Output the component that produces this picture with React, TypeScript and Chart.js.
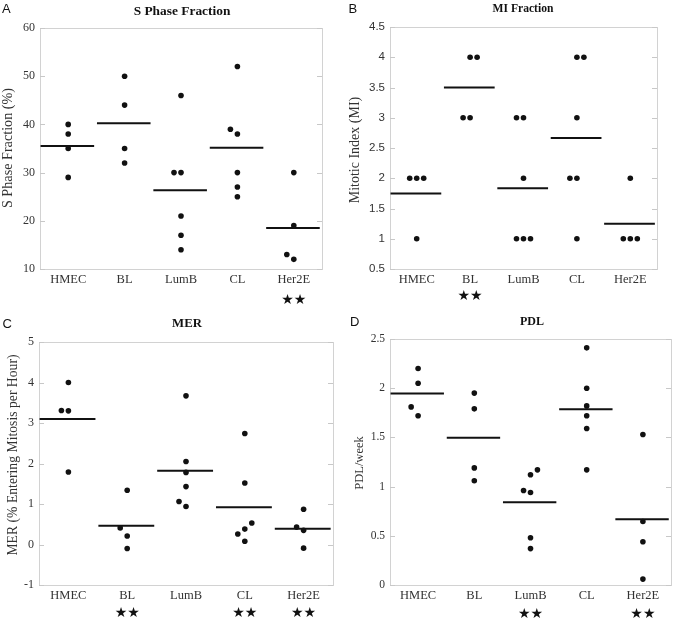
import React, { useEffect, useRef } from "react";
import { Chart, registerables } from "chart.js";

Chart.register(...registerables);

// ---------- data ----------
const categories = ["HMEC", "BL", "LumB", "CL", "Her2E"];

// A: S Phase Fraction (%)
const sPhaseValues = [
  [40, 38, 35, 29],
  [50, 44, 35, 32],
  [46, 30, 30, 21, 17, 14],
  [52, 39, 38, 30, 27, 25],
  [30, 19, 13, 12],
];
const sPhaseSlots = [
  [0, 0, 0, 0],
  [0, 0, 0, 0],
  [0, -1, 0, 0, 0, 0],
  [0, -1, 0, 0, 0, 0],
  [0, 0, -1, 0],
];
const sPhaseTicks = [10, 20, 30, 40, 50, 60];
const sPhaseSig = ["Her2E"];

// B: Mitotic Index
const miValues = [
  [2, 2, 2, 1],
  [4, 4, 3, 3],
  [3, 3, 2, 1, 1, 1],
  [4, 4, 3, 2, 2, 1],
  [2, 1, 1, 1],
];
const miSlots = [
  [-1, 0, 1, 0],
  [0, 1, -1, 0],
  [-1, 0, 0, -1, 0, 1],
  [0, 1, 0, -1, 0, 0],
  [0, -1, 0, 1],
];
const miTicks = [0.5, 1, 1.5, 2, 2.5, 3, 3.5, 4, 4.5];
const miSig = ["BL"];

// C: MER
const merValues = [
  [4.0, 3.31, 3.3, 1.79],
  [1.34, 0.41, 0.21, -0.1],
  [3.67, 2.05, 1.78, 1.43, 1.06, 0.94],
  [2.74, 1.52, 0.53, 0.38, 0.26, 0.08],
  [0.87, 0.43, 0.35, -0.09],
];
const merSlots = [
  [0, -1, 0, 0],
  [0, -1, 0, 0],
  [0, 0, 0, 0, -1, 0],
  [0, 0, 1, 0, -1, 0],
  [0, -1, 0, 0],
];
const merTicks = [-1, 0, 1, 2, 3, 4, 5];
const merSig = ["BL", "CL", "Her2E"];

// D: PDL/week
const pdlValues = [
  [2.2, 2.05, 1.81, 1.72],
  [1.95, 1.79, 1.19, 1.06],
  [1.17, 1.12, 0.96, 0.94, 0.48, 0.37],
  [2.41, 2.0, 1.82, 1.72, 1.59, 1.17],
  [1.53, 0.645, 0.44, 0.06],
];
const pdlSlots = [
  [0, 0, -1, 0],
  [0, 0, 0, 0],
  [1, 0, -1, 0, 0, 0],
  [0, 0, 0, 0, 0, 0],
  [0, 0, 0, 0],
];
const pdlTicks = [0, 0.5, 1, 1.5, 2, 2.5];
const pdlSig = ["LumB", "Her2E"];

// ---------- layout ----------
const W = 675;
const H = 641;
const SERIF = "'Liberation Serif', 'Times New Roman', serif";
const SANS = "'Liberation Sans', Arial, sans-serif";
const SLOT_PX = 7;

type Panel = {
  letter: string;
  letterPos: [number, number];
  title: string;
  titlePos: [number, number];
  titleSize: number;
  yTitle: string;
  yTitlePos: [number, number];
  yTitleSize: number;
  values: number[][];
  slots: number[][];
  ticks: number[];
  sig: string[];
  starY: number;
  plot: { l: number; r: number; t: number; b: number };
  tickFamily: string;
  tickSize: number;
};

const panels: Panel[] = [
  {
    letter: "A", letterPos: [2, 12.7],
    title: "S Phase Fraction", titlePos: [182, 15], titleSize: 13.4,
    yTitle: "S Phase Fraction (%)", yTitlePos: [8, 148], yTitleSize: 14.2,
    values: sPhaseValues, slots: sPhaseSlots, ticks: sPhaseTicks, sig: sPhaseSig,
    starY: 300, plot: { l: 40, r: 322, t: 28, b: 269 },
    tickFamily: SERIF, tickSize: 12,
  },
  {
    letter: "B", letterPos: [348.5, 12.7],
    title: "MI Fraction", titlePos: [523, 12], titleSize: 11.6,
    yTitle: "Mitotic Index (MI)", yTitlePos: [355, 150], yTitleSize: 14,
    values: miValues, slots: miSlots, ticks: miTicks, sig: miSig,
    starY: 296, plot: { l: 390, r: 657, t: 27, b: 269 },
    tickFamily: SANS, tickSize: 11.5,
  },
  {
    letter: "C", letterPos: [2.5, 328],
    title: "MER", titlePos: [187, 327], titleSize: 12.8,
    yTitle: "MER (% Entering Mitosis per Hour)", yTitlePos: [13, 455], yTitleSize: 13.7,
    values: merValues, slots: merSlots, ticks: merTicks, sig: merSig,
    starY: 613, plot: { l: 39, r: 333, t: 342, b: 585 },
    tickFamily: SERIF, tickSize: 12,
  },
  {
    letter: "D", letterPos: [350, 326],
    title: "PDL", titlePos: [532, 325], titleSize: 12,
    yTitle: "PDL/week", yTitlePos: [360, 463], yTitleSize: 12.5,
    values: pdlValues, slots: pdlSlots, ticks: pdlTicks, sig: pdlSig,
    starY: 614, plot: { l: 390, r: 673, t: 339, b: 585 },
    tickFamily: SERIF, tickSize: 11.5,
  },
];

function PanelChart({ panel }: { panel: Panel }) {
  const ref = useRef<HTMLCanvasElement>(null);

  useEffect(() => {
    const canvas = ref.current;
    if (!canvas) return;
    const p = panel;
    const catW = (p.plot.r - p.plot.l) / categories.length;
    const slotDx = SLOT_PX / catW;

    const points = p.values.flatMap((vals, i) =>
      vals.map((v, j) => ({ x: i + p.slots[i][j] * slotDx, y: v }))
    );
    const means = p.values.map((vals) => vals.reduce((a, b) => a + b, 0) / vals.length);
    const meanSets = means.map((m, i) => ({
      data: [
        { x: i - 0.49, y: m },
        { x: i + 0.46, y: m },
      ],
      showLine: true,
      borderColor: "#111",
      borderWidth: 2,
      pointRadius: 0,
      backgroundColor: "#111",
    }));

    const Y_W = 30;
    const X_H = 20;

    const decor = {
      id: "decor",
      beforeDatasetsDraw(chart: any) {
        const ctx = chart.ctx;
        const a = chart.chartArea;
        const ys = chart.scales.y;
        ctx.save();
        ctx.strokeStyle = "#d2d2d2";
        ctx.lineWidth = 1;
        ctx.strokeRect(Math.round(a.left) + 0.5, Math.round(a.top) + 0.5, Math.round(a.right - a.left), Math.round(a.bottom - a.top));
        ctx.strokeStyle = "#c8c8c8";
        ctx.beginPath();
        for (const t of p.ticks) {
          const y = Math.round(ys.getPixelForValue(t)) + 0.5;
          ctx.moveTo(a.left, y);
          ctx.lineTo(a.left + 5, y);
          ctx.moveTo(a.right - 5, y);
          ctx.lineTo(a.right, y);
        }
        ctx.stroke();
        ctx.restore();
      },
      afterDraw(chart: any) {
        const ctx = chart.ctx;
        const xs = chart.scales.x;
        ctx.save();
        ctx.fillStyle = "#111";
        ctx.textBaseline = "alphabetic";
        ctx.textAlign = "left";
        ctx.font = `13px ${SANS}`;
        ctx.fillText(p.letter, p.letterPos[0], p.letterPos[1]);

        ctx.textAlign = "center";
        ctx.font = `bold ${p.titleSize}px ${SERIF}`;
        ctx.fillText(p.title, p.titlePos[0], p.titlePos[1]);

        ctx.save();
        ctx.fillStyle = "#333";
        ctx.font = `${p.yTitleSize}px ${SERIF}`;
        ctx.translate(p.yTitlePos[0], p.yTitlePos[1]);
        ctx.rotate(-Math.PI / 2);
        ctx.textBaseline = "middle";
        ctx.fillText(p.yTitle, 0, 0);
        ctx.restore();

        ctx.font = `14px 'DejaVu Sans', sans-serif`;
        ctx.textBaseline = "middle";
        ctx.fillStyle = "#111";
        for (const s of p.sig) {
          const idx = categories.indexOf(s);
          ctx.fillText("\u2605\u2605", xs.getPixelForValue(idx), p.starY);
        }
        ctx.restore();
      },
    };

    const chart = new Chart(canvas, {
      type: "scatter",
      data: {
        datasets: [
          {
            data: points,
            backgroundColor: "#111",
            borderWidth: 0,
            pointRadius: 2.8,
          } as any,
          ...(meanSets as any[]),
        ],
      },
      options: {
        responsive: false,
        animation: false,
        events: [],
        layout: {
          padding: {
            left: p.plot.l - Y_W,
            top: p.plot.t,
            right: W - p.plot.r,
            bottom: H - p.plot.b - X_H,
          },
        },
        plugins: {
          legend: { display: false },
          tooltip: { enabled: false },
        },
        scales: {
          x: {
            type: "linear",
            min: -0.5,
            max: 4.5,
            grid: { display: false, drawTicks: false },
            border: { display: false },
            afterBuildTicks: (s: any) => {
              s.ticks = categories.map((_, i) => ({ value: i }));
            },
            afterFit: (s: any) => {
              s.height = X_H;
            },
            ticks: {
              padding: 3,
              autoSkip: false,
              maxRotation: 0,
              color: "#333",
              font: { family: SERIF, size: 12.5 },
              callback: (v: any) => categories[Number(v)] ?? "",
            },
          },
          y: {
            type: "linear",
            min: p.ticks[0],
            max: p.ticks[p.ticks.length - 1],
            grid: { display: false, drawTicks: false },
            border: { display: false },
            afterBuildTicks: (s: any) => {
              s.ticks = p.ticks.map((v) => ({ value: v }));
            },
            afterFit: (s: any) => {
              s.width = Y_W;
            },
            ticks: {
              padding: 5,
              color: "#333",
              font: { family: p.tickFamily, size: p.tickSize },
              callback: (v: any) => String(v),
            },
          },
        },
      } as any,
      plugins: [decor],
    });
    return () => chart.destroy();
  }, [panel]);

  return (
    <canvas
      ref={ref}
      width={W}
      height={H}
      style={{ position: "absolute", left: 0, top: 0, width: W, height: H }}
    />
  );
}

export default function App() {
  return (
    <div style={{ position: "absolute", left: 0, top: 0, width: W, height: H, background: "#fff" }}>
      {panels.map((p) => (
        <PanelChart key={p.letter} panel={p} />
      ))}
    </div>
  );
}
